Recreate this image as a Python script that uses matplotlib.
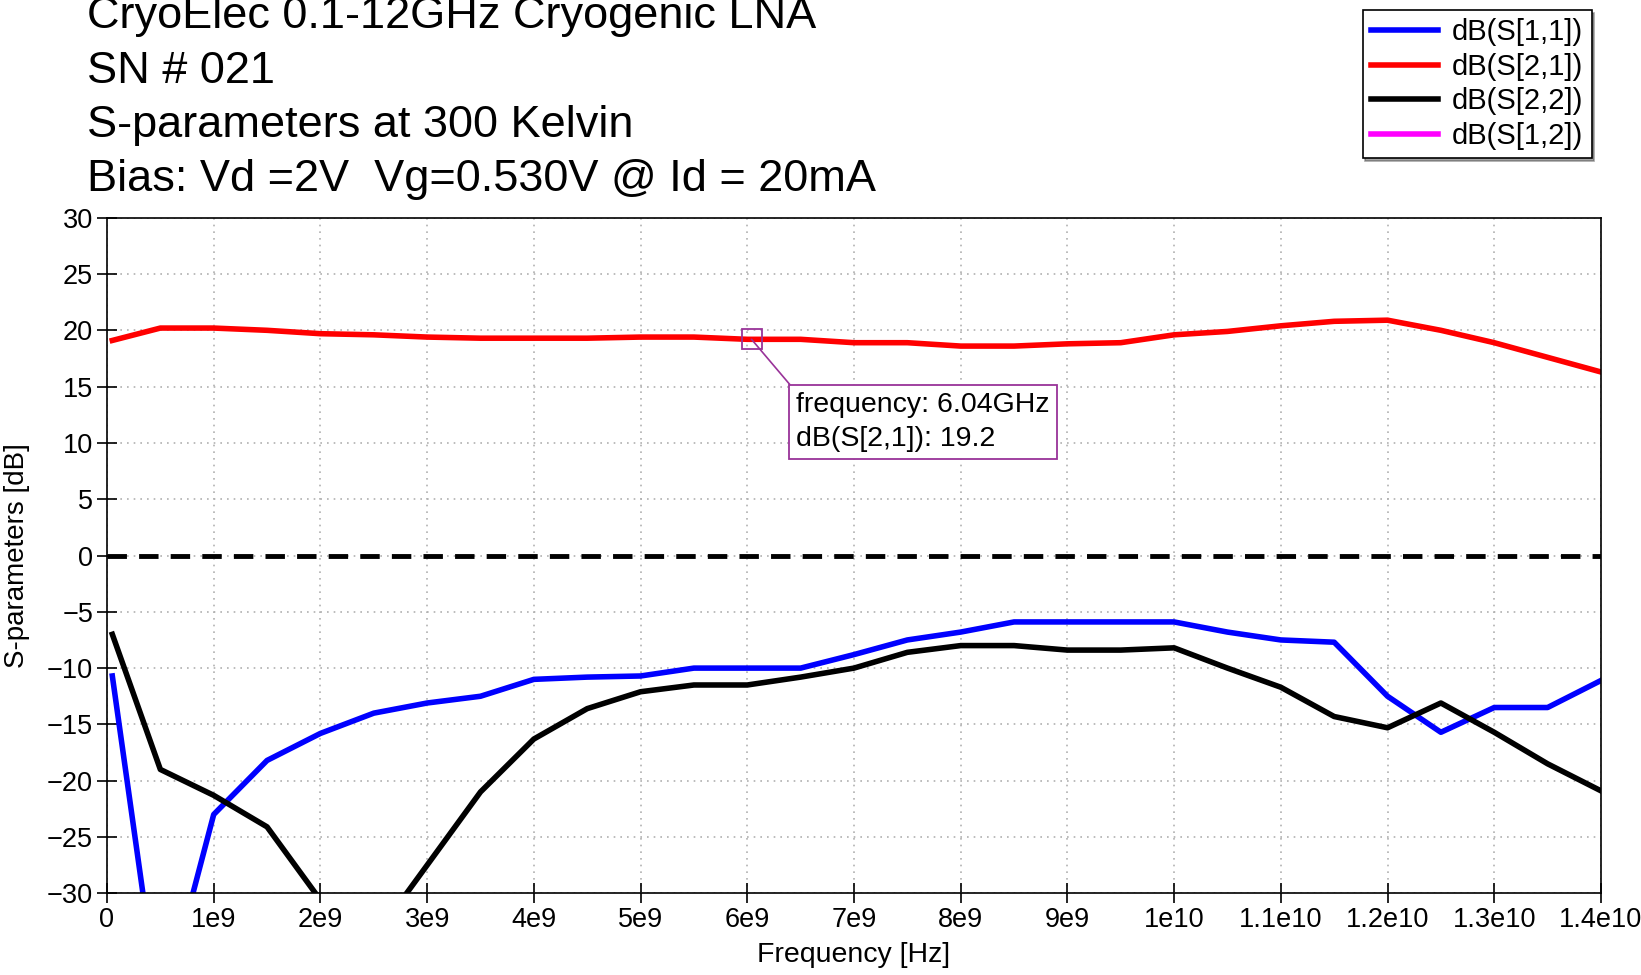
import numpy as np
import matplotlib.pyplot as plt
from matplotlib.lines import Line2D

plt.rcParams['font.family'] = ['Liberation Sans', 'DejaVu Sans']

# frequency points (GHz)
freq_ghz = [0.05, 0.5, 1.0, 1.5, 2.0, 2.5, 3.0, 3.5, 4.0, 4.5, 5.0, 5.5, 6.0, 6.5,
            7.0, 7.5, 8.0, 8.5, 9.0, 9.5, 10.0, 10.5, 11.0, 11.5, 12.0, 12.5, 13.0, 13.5, 14.0]

s11 = [-10.7, -41.0, -23.0, -18.2, -15.8, -14.0, -13.1, -12.5, -11.0, -10.8, -10.7, -10.0, -10.0, -10.0,
       -8.8, -7.5, -6.8, -5.9, -5.9, -5.9, -5.9, -6.8, -7.5, -7.7, -12.5, -15.7, -13.5, -13.5, -11.1]
s21 = [19.1, 20.2, 20.2, 20.0, 19.7, 19.6, 19.4, 19.3, 19.3, 19.3, 19.4, 19.4, 19.2, 19.2,
       18.9, 18.9, 18.6, 18.6, 18.8, 18.9, 19.6, 19.9, 20.4, 20.8, 20.9, 20.0, 18.9, 17.6, 16.3]
s22 = [-7.0, -19.0, -21.3, -24.1, -30.6, -34.0, -27.5, -21.0, -16.3, -13.6, -12.1, -11.5, -11.5, -10.8,
       -10.0, -8.6, -8.0, -8.0, -8.4, -8.4, -8.2, -10.0, -11.7, -14.3, -15.3, -13.1, -15.7, -18.5, -20.9]

title_lines = ['CryoElec 0.1-12GHz Cryogenic LNA', 'SN # 021', 'S-parameters at 300 Kelvin',
               'Bias: Vd =2V  Vg=0.530V @ Id = 20mA']
xtick_vals = [0, 1e9, 2e9, 3e9, 4e9, 5e9, 6e9, 7e9, 8e9, 9e9, 1e10, 1.1e10, 1.2e10, 1.3e10, 1.4e10]
xtick_labels = ['0', '1e9', '2e9', '3e9', '4e9', '5e9', '6e9', '7e9', '8e9', '9e9',
                '1e10', '1.1e10', '1.2e10', '1.3e10', '1.4e10']

marker_f = 6.04e9
marker_db = 19.2

f = np.array(freq_ghz) * 1e9

fig = plt.figure(figsize=(16.41, 9.75), dpi=100)
ax = fig.add_axes([0.0652, 0.0838, 0.9104, 0.6929])

lw = 4
ax.plot(f, s11, color='#0000ff', lw=lw, solid_joinstyle='round', label='dB(S[1,1])')
ax.plot(f, s21, color='#ff0000', lw=lw, solid_joinstyle='round', label='dB(S[2,1])')
ax.plot(f, s22, color='black', lw=lw, solid_joinstyle='round', label='dB(S[2,2])')
ax.axhline(0, color='black', lw=3.5, ls=(0, (4, 2.5)))

ax.set_xlim(0, 1.4e10)
ax.set_ylim(-30, 30)
ax.set_yticks(np.arange(-30, 31, 5))
ax.set_xticks(xtick_vals)
ax.set_xticklabels(xtick_labels)
ax.tick_params(direction='inout', length=14, width=1.2, labelsize=19.5, pad=3)
ax.grid(True, color='#b0b0b0', ls=(0, (1, 3)), lw=1.2)
for s in ax.spines.values():
    s.set_linewidth(1.2)

ax.set_xlabel('Frequency [Hz]', fontsize=20.5, labelpad=6)
ax.set_ylabel('S-parameters [dB]', fontsize=20)
ax.yaxis.set_label_coords(-0.0515, 0.5)

# marker annotation
purple = '#993399'
ax.plot([marker_f], [marker_db], marker='s', ms=14, mfc='none', mec=purple, mew=1.3)
ax.annotate('frequency: 6.04GHz\ndB(S[2,1]): 19.2', xy=(marker_f, marker_db),
            xytext=(6.46e9, 14.5), textcoords='data', ha='left', va='top',
            fontsize=20.5, linespacing=1.4,
            bbox=dict(boxstyle='square,pad=0.25', fc='white', ec=purple, lw=1.3),
            arrowprops=dict(arrowstyle='-', color=purple, lw=1.2, relpos=(0, 1),
                            shrinkA=0, shrinkB=0))

handles = [Line2D([], [], color='#0000ff', lw=lw), Line2D([], [], color='#ff0000', lw=lw),
           Line2D([], [], color='black', lw=lw), Line2D([], [], color='#ff00ff', lw=lw)]
labels = ['dB(S[1,1])', 'dB(S[2,1])', 'dB(S[2,2])', 'dB(S[1,2])']
leg = fig.legend(handles, labels, loc='upper right', bbox_to_anchor=(0.9735, 0.996),
                 fontsize=21, frameon=True, fancybox=False, shadow=True,
                 handlelength=2.3, labelspacing=0.22, borderpad=0.3, handletextpad=0.45,
                 borderaxespad=0.2)
leg.get_frame().set_edgecolor('black')
leg.get_frame().set_linewidth(1.2)

for i, t in enumerate(title_lines):
    fig.text(0.053, 0.971 - i * 0.0558, t, fontsize=32.5, va='baseline', ha='left')

fig.savefig('out.png', dpi=100)
